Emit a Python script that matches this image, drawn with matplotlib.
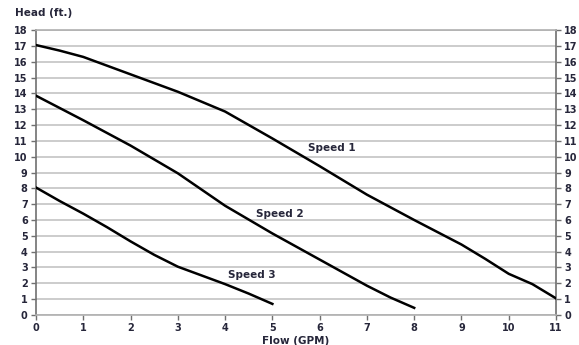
import matplotlib.pyplot as plt
import numpy as np

# pump curves (flow GPM -> head ft.)
flow1 = [0, 0.5, 1, 1.5, 2, 3, 4, 5, 6, 7, 8, 9, 9.5, 10, 10.5, 11]
head1 = [17.05, 16.7, 16.3, 15.75, 15.2, 14.1, 12.85, 11.15, 9.4, 7.6, 6.0, 4.45, 3.55, 2.6, 1.95, 1.05]

flow2 = [0, 1, 2, 3, 4, 5, 6, 7, 7.5, 8]
head2 = [13.85, 12.3, 10.7, 8.95, 6.9, 5.15, 3.5, 1.85, 1.1, 0.45]

flow3 = [0, 0.5, 1, 1.5, 2, 2.5, 3, 3.5, 4, 4.5, 5]
head3 = [8.05, 7.2, 6.4, 5.55, 4.65, 3.8, 3.05, 2.5, 1.95, 1.35, 0.7]

labels = ["Speed 1", "Speed 2", "Speed 3"]
label_pos = [(6.25, 10.55), (5.15, 6.4), (4.57, 2.5)]

xticks = list(range(0, 12))
yticks = list(range(0, 19))

txt = "#26263a"

fig = plt.figure(figsize=(5.79, 3.45), dpi=100)
ax = fig.add_axes([0.0622, 0.087, 0.8981, 0.826])

for f, h in [(flow1, head1), (flow2, head2), (flow3, head3)]:
    ax.plot(f, h, color="black", lw=1.8, solid_joinstyle="round", zorder=3)

for lab, (x, y) in zip(labels, label_pos):
    ax.text(x, y, lab, ha="center", va="center", fontsize=7.5,
            fontweight="bold", color=txt)

ax.set_xlim(0, 11)
ax.set_ylim(0, 18)
ax.set_xticks(xticks)
ax.set_yticks(yticks)
ax.grid(axis="y", color="#c4c4c4", lw=1.2)
ax.set_axisbelow(True)

for s in ["top", "bottom"]:
    ax.spines[s].set_color("#b0b0b0")
    ax.spines[s].set_linewidth(1.2)
for s in ["left", "right"]:
    ax.spines[s].set_color("#707070")
    ax.spines[s].set_linewidth(1.2)

ax.tick_params(axis="both", direction="out", length=3.5, width=1,
               color="#707070", labelsize=7, labelcolor=txt, pad=2.5)
ax.tick_params(axis="y", right=True, labelright=True)
for lbl in ax.get_xticklabels() + ax.get_yticklabels():
    lbl.set_fontweight("bold")

fig.text(0.026, 0.962, "Head (ft.)", fontsize=7.5, fontweight="bold",
         color=txt, va="center", ha="left")
fig.text(0.51, 0.013, "Flow (GPM)", fontsize=7.5, fontweight="bold",
         color=txt, va="center", ha="center")

fig.savefig("out.png", dpi=100)
